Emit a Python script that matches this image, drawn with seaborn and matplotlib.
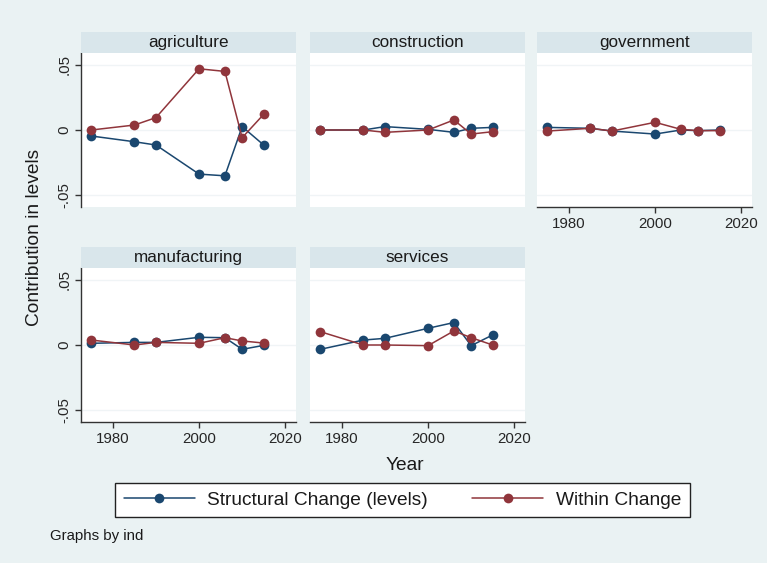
import matplotlib
matplotlib.use("Agg")
import matplotlib.pyplot as plt
from matplotlib.lines import Line2D
from matplotlib.patches import Rectangle
import pandas as pd
import seaborn as sns

# ---- data -------------------------------------------------------------
years = [1975, 1985, 1990, 2000, 2006, 2010, 2015]
industries = ["agriculture", "construction", "government", "manufacturing", "services"]
series_names = ["Structural Change (levels)", "Within Change"]

agriculture_structural = [-0.0046, -0.0090, -0.0115, -0.0338, -0.0351, 0.0026, -0.0115]
agriculture_within = [0.0000, 0.0038, 0.0095, 0.0469, 0.0449, -0.0059, 0.0120]
construction_structural = [0.0000, 0.0000, 0.0026, 0.0005, -0.0018, 0.0013, 0.0020]
construction_within = [0.0000, 0.0000, -0.0018, 0.0000, 0.0077, -0.0031, -0.0013]
government_structural = [0.0020, 0.0013, -0.0008, -0.0031, 0.0000, -0.0005, 0.0000]
government_within = [-0.0008, 0.0013, -0.0008, 0.0059, 0.0005, -0.0005, -0.0005]
manufacturing_structural = [0.0013, 0.0020, 0.0020, 0.0059, 0.0056, -0.0033, -0.0003]
manufacturing_within = [0.0038, 0.0000, 0.0020, 0.0013, 0.0056, 0.0031, 0.0015]
services_structural = [-0.0033, 0.0038, 0.0051, 0.0128, 0.0172, -0.0005, 0.0077]
services_within = [0.0102, 0.0000, 0.0000, -0.0005, 0.0108, 0.0056, 0.0000]

y_ticks = [-0.05, 0.0, 0.05]
y_tick_labels = ["-.05", "0", ".05"]
x_ticks = [1980, 2000, 2020]
x_tick_labels = ["1980", "2000", "2020"]

series_values = {
    "agriculture": (agriculture_structural, agriculture_within),
    "construction": (construction_structural, construction_within),
    "government": (government_structural, government_within),
    "manufacturing": (manufacturing_structural, manufacturing_within),
    "services": (services_structural, services_within),
}

rows = []
for ind in industries:
    for name, vals in zip(series_names, series_values[ind]):
        for yr, v in zip(years, vals):
            rows.append({"ind": ind, "year": yr, "series": name, "value": v})
df = pd.DataFrame(rows)

# ---- style ------------------------------------------------------------
sns.set_style("white")
plt.rcParams["font.family"] = ["Liberation Sans", "DejaVu Sans"]
plt.rcParams["text.color"] = "#1a1a1a"

BG = "#eaf2f3"
STRIP = "#d9e6eb"
GRID = "#f0f4f6"
AXIS = "#333333"
palette = {series_names[0]: "#1a476f", series_names[1]: "#90353b"}

W, H = 767, 563
fig = plt.figure(figsize=(W / 100, H / 100), dpi=100, facecolor=BG)

col_left = [81, 310, 537]
panel_w = 215
row_top = [53, 268]
panel_h = 154
strip_h = 21

positions = {
    "agriculture": (0, 0),
    "construction": (0, 1),
    "government": (0, 2),
    "manufacturing": (1, 0),
    "services": (1, 1),
}
show_x = {"government", "manufacturing", "services"}

for ind in industries:
    r, c = positions[ind]
    l, t = col_left[c], row_top[r]
    ax = fig.add_axes([l / W, 1 - (t + panel_h) / H, panel_w / W, panel_h / H])
    ax.set_facecolor("white")

    sns.lineplot(
        data=df[df["ind"] == ind], x="year", y="value", hue="series",
        hue_order=series_names, palette=palette, marker="o", markersize=7,
        markeredgewidth=0, linewidth=1.1, legend=False, ax=ax, zorder=3,
    )

    ax.set_xlim(1972.6, 2022.5)
    ax.set_ylim(-0.059, 0.059)
    ax.set_yticks(y_ticks)
    ax.set_xticks(x_ticks)
    ax.grid(axis="y", color=GRID, linewidth=1.0, zorder=0)
    ax.set_xlabel("")
    ax.set_ylabel("")

    for s in ax.spines.values():
        s.set_visible(False)

    if c == 0:
        ax.spines["left"].set_visible(True)
        ax.spines["left"].set_color(AXIS)
        ax.spines["left"].set_linewidth(1.0)
        ax.set_yticklabels(y_tick_labels, fontsize=10.8)
        plt.setp(ax.get_yticklabels(), rotation=90, va="center")
        ax.tick_params(axis="y", left=True, length=4.5, width=1.0,
                       color=AXIS, pad=2.5)
    else:
        ax.tick_params(axis="y", left=False, labelleft=False)

    if ind in show_x:
        ax.spines["bottom"].set_visible(True)
        ax.spines["bottom"].set_color(AXIS)
        ax.spines["bottom"].set_linewidth(1.0)
        ax.set_xticklabels(x_tick_labels, fontsize=10.8)
        ax.tick_params(axis="x", bottom=True, length=4.5, width=1.0,
                       color=AXIS, pad=3)
    else:
        ax.tick_params(axis="x", bottom=False, labelbottom=False)

    # panel header strip
    fig.add_artist(Rectangle((l / W, 1 - t / H), panel_w / W, strip_h / H,
                             transform=fig.transFigure, facecolor=STRIP,
                             edgecolor="none"))
    fig.text((l + panel_w / 2) / W, 1 - (t - strip_h / 2) / H, ind,
             ha="center", va="center", fontsize=12.3)

fig.text(35 / W, 1 - 237 / H, "Contribution in levels", rotation=90,
         ha="center", va="center", fontsize=13.8)
fig.text(405 / W, 1 - 465 / H, "Year", ha="center", va="center", fontsize=13.8)
fig.text(50 / W, 1 - 536 / H, "Graphs by ind", ha="left", va="center",
         fontsize=10.8)

handles = [Line2D([], [], color=palette[n], marker="o", markersize=7,
                  markeredgewidth=0, linewidth=1.1) for n in series_names]
leg = fig.legend(handles, series_names, loc="center",
                 bbox_to_anchor=(402.5 / W, 1 - 500 / H),
                 ncol=2, frameon=True, fancybox=False,
                 edgecolor="#222222", facecolor="white", framealpha=1,
                 fontsize=13.8, handlelength=3.7, borderaxespad=0,
                 borderpad=0.45, handletextpad=0.65, columnspacing=2.3)
leg.get_frame().set_linewidth(1.0)

fig.savefig("out.png", dpi=100, facecolor=BG)
